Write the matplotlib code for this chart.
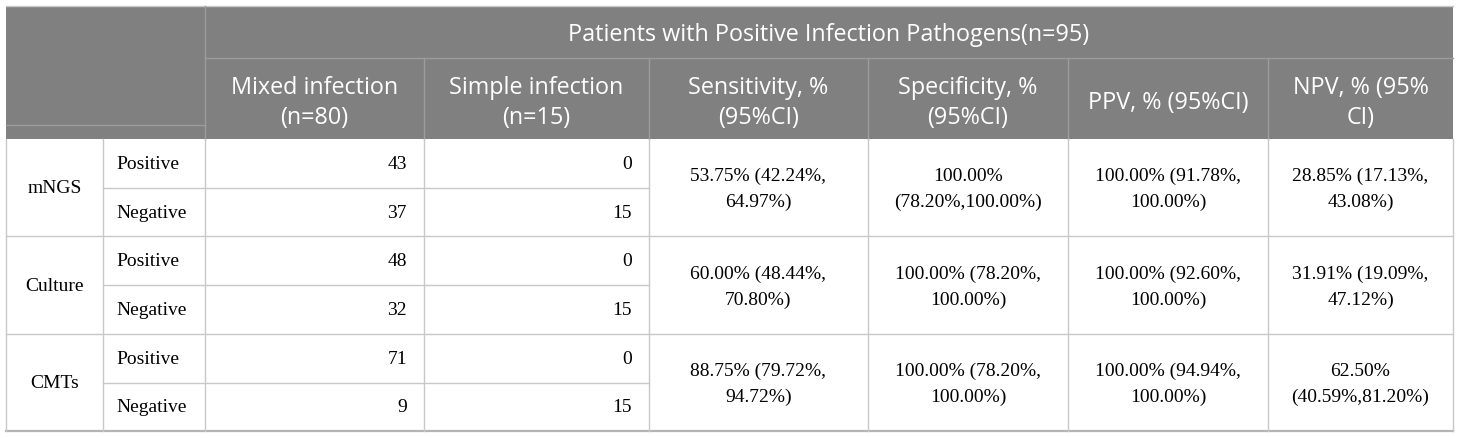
import matplotlib.pyplot as plt
from matplotlib.patches import Rectangle

# table content
header_top = "Patients with Positive Infection Pathogens(n=95)"
col_headers = ["Mixed infection\n(n=80)", "Simple infection\n(n=15)",
               "Sensitivity, %\n(95%CI)", "Specificity, %\n(95%CI)",
               "PPV, % (95%CI)", "NPV, % (95%\nCI)"]
methods = ["mNGS", "Culture", "CMTs"]
results = ["Positive", "Negative"]
mixed = [[43, 37], [48, 32], [71, 9]]
simple = [[0, 15], [0, 15], [0, 15]]
sensitivity = ["53.75% (42.24%,\n64.97%)", "60.00% (48.44%,\n70.80%)", "88.75% (79.72%,\n94.72%)"]
specificity = ["100.00%\n(78.20%,100.00%)", "100.00% (78.20%,\n100.00%)", "100.00% (78.20%,\n100.00%)"]
ppv = ["100.00% (91.78%,\n100.00%)", "100.00% (92.60%,\n100.00%)", "100.00% (94.94%,\n100.00%)"]
npv = ["28.85% (17.13%,\n43.08%)", "31.91% (19.09%,\n47.12%)", "62.50%\n(40.59%,81.20%)"]

# layout in pixels
W, H = 1460, 439
xs = [6, 103, 205, 424, 649, 868, 1068, 1268, 1453]
y_top, y_h1, y_h2 = 7, 59, 140
row_h = 48.7
head_bg = "#808080"
head_line = "#9c9c9c"
grid = "#c8c8c8"
sans = "Open Sans"
serif = "Liberation Serif"
fs_head = 16.8
fs_body = 14

fig = plt.figure(figsize=(W / 100, H / 100), dpi=100)
ax = fig.add_axes([0, 0, 1, 1])
ax.set_xlim(0, W)
ax.set_ylim(H, 0)
ax.axis("off")

# header block
ax.add_patch(Rectangle((xs[0], y_top), xs[-1] - xs[0], y_h2 - y_top, color=head_bg, lw=0))
ax.plot([xs[0], xs[-1]], [y_top, y_top], color=grid, lw=1)
ax.plot([xs[2], xs[-1]], [y_h1, y_h1], color=head_line, lw=1)
ax.plot([xs[0], xs[2]], [126, 126], color=head_line, lw=1)
ax.plot([xs[2], xs[2]], [y_top, y_h2], color=head_line, lw=1)
for x in xs[3:-1]:
    ax.plot([x, x], [y_h1, y_h2], color=head_line, lw=1)

ax.text((xs[2] + xs[-1]) / 2, (y_top + y_h1) / 2 + 2, header_top, color="white",
        fontsize=fs_head, family=sans, ha="center", va="center")
for i, lab in enumerate(col_headers):
    cx = (xs[i + 2] + xs[i + 3]) / 2
    ax.text(cx, (y_h1 + y_h2) / 2 + 3.5, lab, color="white", fontsize=fs_head, family=sans,
            ha="center", va="center", linespacing=1.35)

# body
for m, name in enumerate(methods):
    y0 = y_h2 + m * 2 * row_h
    y1 = y0 + 2 * row_h
    ax.text((xs[0] + xs[1]) / 2, (y0 + y1) / 2, name, fontsize=fs_body, family=serif,
            ha="center", va="center")
    for r, res in enumerate(results):
        ry = y0 + (r + 0.5) * row_h
        ax.text(xs[1] + 13, ry, res, fontsize=fs_body, family=serif, ha="left", va="center")
        ax.text(xs[3] - 17, ry, str(mixed[m][r]), fontsize=fs_body, family=serif,
                ha="right", va="center")
        ax.text(xs[4] - 17, ry, str(simple[m][r]), fontsize=fs_body, family=serif,
                ha="right", va="center")
    for j, col in enumerate([sensitivity, specificity, ppv, npv]):
        ax.text((xs[j + 4] + xs[j + 5]) / 2, (y0 + y1) / 2 + 1, col[m], fontsize=fs_body,
                family=serif, ha="center", va="center", linespacing=1.65)
    # lines
    ax.plot([xs[1], xs[4]], [y0 + row_h, y0 + row_h], color=grid, lw=1)
    ax.plot([xs[0], xs[-1]], [y1, y1], color=grid if m < 2 else "#b4b4b4",
            lw=1 if m < 2 else 1.6)

y_bot = y_h2 + 6 * row_h
for x in xs:
    ax.plot([x, x], [y_h2, y_bot], color=grid, lw=1)

fig.savefig("out.png", dpi=100)
